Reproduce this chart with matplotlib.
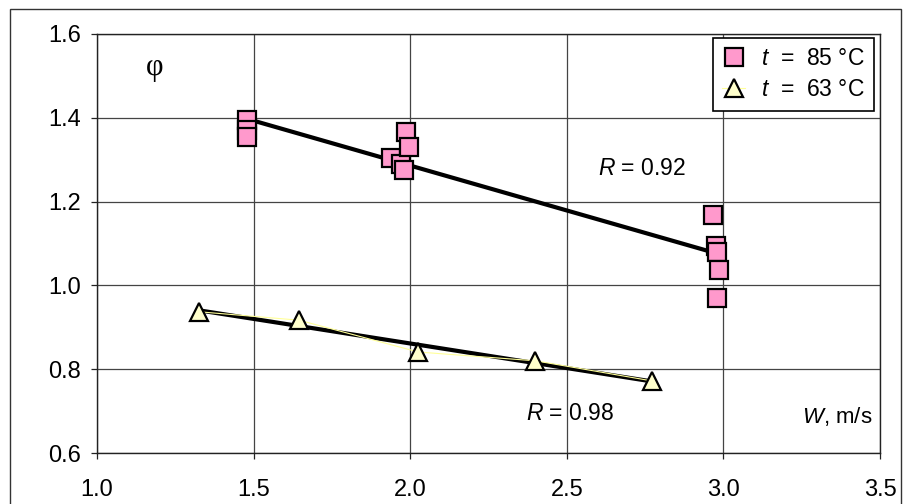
import numpy as np
import matplotlib
matplotlib.use("Agg")
import matplotlib.pyplot as plt
from matplotlib.patches import Rectangle

plt.rcParams["font.family"] = ["Liberation Sans", "DejaVu Sans"]
plt.rcParams["mathtext.fontset"] = "custom"
plt.rcParams["mathtext.it"] = "Liberation Sans:italic"
plt.rcParams["mathtext.rm"] = "Liberation Sans"

# series t = 85 C
w_85 = [1.48, 1.48, 1.48, 1.94, 1.97, 1.98, 1.985, 1.995, 2.967, 2.976, 2.98, 2.987, 2.98]
phi_85 = [1.395, 1.37, 1.355, 1.305, 1.29, 1.275, 1.365, 1.33, 1.169, 1.093, 1.079, 1.036, 0.97]

# series t = 63 C
w_63 = [1.327, 1.645, 2.026, 2.40, 2.772]
phi_63 = [0.937, 0.917, 0.841, 0.820, 0.772]

x_ticks = [1.0, 1.5, 2.0, 2.5, 3.0, 3.5]
y_ticks = [0.6, 0.8, 1.0, 1.2, 1.4, 1.6]

fig = plt.figure(figsize=(9.04, 5.04), dpi=100)
ax = fig.add_axes([97 / 904, 1 - 453 / 504, 783 / 904, 419 / 504])

# outer frame
fig.patches.append(Rectangle((10 / 904, -0.1), 891 / 904, 1.1 - 9 / 504,
                             transform=fig.transFigure, fill=False,
                             edgecolor="#333333", linewidth=1.0))

ax.set_xlim(1.0, 3.5)
ax.set_ylim(0.6, 1.6)
ax.set_xticks(x_ticks)
ax.set_yticks(y_ticks)
ax.set_xticklabels([f"{v:.1f}" for v in x_ticks])
ax.set_yticklabels([f"{v:.1f}" for v in y_ticks])
ax.grid(True, color="#444444", linewidth=0.9)
ax.set_axisbelow(True)
ax.tick_params(direction="out", length=4.5, width=0.9, labelsize=17, color="#222222")
ax.tick_params(axis="x", pad=14)
ax.tick_params(axis="y", pad=7)
for s in ax.spines.values():
    s.set_linewidth(1.0)
    s.set_color("#222222")

# trend lines
for xs, ys in [(w_85, phi_85), (w_63, phi_63)]:
    k, b = np.polyfit(xs, ys, 1)
    xx = np.array([min(xs), max(xs)])
    ax.plot(xx, k * xx + b, color="black", linewidth=3, zorder=3)

ax.plot(w_85, phi_85, linestyle="none", marker="s", markersize=13,
        markerfacecolor="#FF99CC", markeredgecolor="black", markeredgewidth=1.6,
        zorder=4, label=r"$t$  =  85 °C")
ax.plot(w_63, phi_63, color="#FFFF99", linewidth=0.8, marker="^", markersize=13,
        markerfacecolor="#FFFFCC", markeredgecolor="black", markeredgewidth=1.6,
        zorder=4, label=r"$t$  =  63 °C")

ax.text(1.185, 1.52, "φ", fontsize=22, family=["Liberation Serif"], ha="center", va="center")
ax.text(2.74, 1.28, r"$R$ = 0.92", fontsize=16.5, ha="center", va="center")
ax.text(2.51, 0.695, r"$R$ = 0.98", fontsize=16.5, ha="center", va="center")
ax.text(3.363, 0.686, r"$W$, m/s", fontsize=16, ha="center", va="center")

leg = ax.legend(loc="upper right", bbox_to_anchor=(0.9923, 0.99), fontsize=16.5,
                frameon=True, fancybox=False, edgecolor="black", framealpha=1,
                borderpad=0.4, handlelength=1.0, handletextpad=0.7, labelspacing=0.35,
                borderaxespad=0)
leg.get_frame().set_linewidth(1.2)

fig.savefig("out.png", dpi=100)
